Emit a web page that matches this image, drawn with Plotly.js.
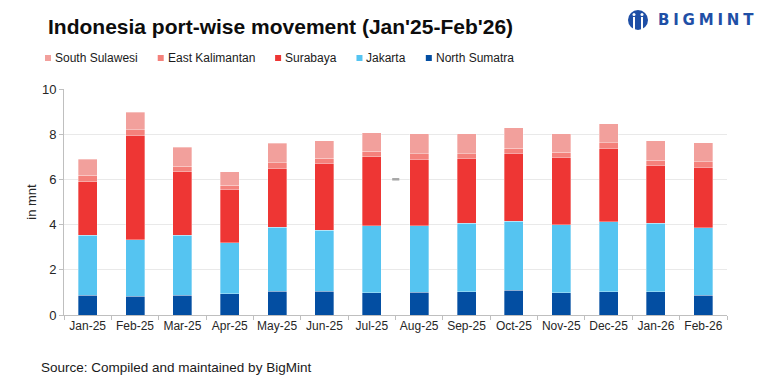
<!DOCTYPE html>
<html>
<head>
<meta charset="utf-8">
<script src="https://cdn.plot.ly/plotly-3.0.1.min.js"></script>
<style>html,body{margin:0;padding:0;background:#fff;}#chart{width:768px;height:385px;}</style>
</head>
<body>
<div id="chart"></div>
<script>
// ---- Data (million tonnes) ----
const months = ['Jan-25','Feb-25','Mar-25','Apr-25','May-25','Jun-25','Jul-25','Aug-25','Sep-25','Oct-25','Nov-25','Dec-25','Jan-26','Feb-26'];
const northSumatra   = [0.88, 0.84, 0.88, 0.93, 1.05, 1.05, 0.99, 1.01, 1.04, 1.10, 0.99, 1.04, 1.04, 0.87];
const jakarta        = [2.66, 2.48, 2.64, 2.27, 2.84, 2.69, 2.97, 2.95, 3.02, 3.05, 3.00, 3.09, 3.03, 2.98];
const surabaya       = [2.36, 4.64, 2.82, 2.36, 2.60, 2.97, 3.04, 2.94, 2.87, 3.00, 3.00, 3.25, 2.56, 2.69];
const eastKalimantan = [0.29, 0.23, 0.25, 0.19, 0.24, 0.23, 0.25, 0.23, 0.20, 0.22, 0.22, 0.25, 0.22, 0.24];
const southSulawesi  = [0.71, 0.78, 0.83, 0.59, 0.87, 0.78, 0.82, 0.88, 0.88, 0.92, 0.80, 0.83, 0.87, 0.84];
const yTicks = [0, 2, 4, 6, 8, 10];

const seriesNames  = ['North Sumatra', 'Jakarta', 'Surabaya', 'East Kalimantan', 'South Sulawesi'];
const seriesValues = [northSumatra, jakarta, surabaya, eastKalimantan, southSulawesi];
const seriesColors = ['#034EA2', '#55C4F1', '#EE3634', '#F4817B', '#F2A09C'];

// ---- Layout geometry ----
const W = 768, H = 385;
const M = {l: 64, r: 41, t: 89, b: 70};
const PW = W - M.l - M.r, PH = H - M.t - M.b;
const px = x => (x - M.l) / PW;          // pixel -> paper x
const py = y => (H - M.b - y) / PH;      // pixel -> paper y
const FONT = 'Liberation Sans, Arial, sans-serif';

const traces = seriesNames.map((name, i) => ({
  type: 'bar',
  name: name,
  x: months,
  y: seriesValues[i],
  marker: {color: seriesColors[i], line: {color: 'rgba(255,255,255,0.55)', width: 0.6}},
  hoverinfo: 'x+y+name'
}));

// Custom legend (legend order as in the reference)
const ctx = document.createElement('canvas').getContext('2d');
ctx.font = '12px "Liberation Sans"';
const shapes = [], annotations = [];
let lx = 45;
for (let k = seriesNames.length - 1; k >= 0; k--) {
  shapes.push({type: 'rect', xref: 'paper', yref: 'paper',
    x0: px(lx), x1: px(lx + 6), y0: py(61), y1: py(55),
    fillcolor: seriesColors[k], line: {width: 0}});
  annotations.push({xref: 'paper', yref: 'paper', x: px(lx + 8), y: py(58),
    xanchor: 'left', yanchor: 'middle', showarrow: false, text: seriesNames[k],
    font: {family: FONT, size: 12, color: '#1a1a1a'}});
  lx += 8 + ctx.measureText(seriesNames[k]).width + 22;
}

// stray grey dash seen in the reference
shapes.push({type: 'rect', xref: 'x', yref: 'y', x0: 6.43, x1: 6.58, y0: 5.95, y1: 6.06,
  fillcolor: '#a6a6a6', line: {width: 0}});

// Source note
annotations.push({xref: 'paper', yref: 'paper', x: px(39), y: py(367), xanchor: 'left', yanchor: 'middle',
  showarrow: false, text: 'Source: Compiled and maintained by BigMint',
  font: {family: FONT, size: 13.5, color: '#1a1a1a'}});

// Logo
const LOGO = '#1F4FA6';
annotations.push({xref: 'paper', yref: 'paper', x: px(656), y: py(20), xanchor: 'left', yanchor: 'middle',
  showarrow: false, text: '<span style="letter-spacing:3.8px">BIGMINT</span>',
  font: {family: 'DejaVu Sans, sans-serif', size: 15, color: LOGO, weight: 'bold'}});
shapes.push({type: 'circle', xref: 'paper', yref: 'paper', x0: px(628), x1: px(648), y0: py(30), y1: py(10),
  fillcolor: LOGO, line: {width: 0}});
shapes.push({type: 'rect', xref: 'paper', yref: 'paper', x0: px(633), x1: px(635), y0: py(31), y1: py(17),
  fillcolor: '#ffffff', line: {width: 0}});
shapes.push({type: 'rect', xref: 'paper', yref: 'paper', x0: px(641), x1: px(643), y0: py(31), y1: py(17),
  fillcolor: '#ffffff', line: {width: 0}});
shapes.push({type: 'circle', xref: 'paper', yref: 'paper', x0: px(632.5), x1: px(635.5), y0: py(16), y1: py(13),
  fillcolor: '#ffffff', line: {width: 0}});
shapes.push({type: 'circle', xref: 'paper', yref: 'paper', x0: px(640.5), x1: px(643.5), y0: py(16), y1: py(13),
  fillcolor: '#ffffff', line: {width: 0}});

const layout = {
  width: W, height: H,
  margin: M,
  paper_bgcolor: '#ffffff', plot_bgcolor: '#ffffff',
  barmode: 'stack', bargap: 0.6,
  showlegend: false,
  font: {family: FONT, size: 12, color: '#262626'},
  title: {text: "Indonesia port-wise movement (Jan'25-Feb'26)", xref: 'container', yref: 'container',
    x: 48 / W, xanchor: 'left', y: 1 - 27 / H, yanchor: 'middle',
    font: {family: FONT, size: 21, color: '#0d0d0d', weight: 'bold'}},
  xaxis: {type: 'category', tickson: 'boundaries', ticks: 'outside', ticklen: 4, tickcolor: '#bfbfbf',
    tickangle: 0, showline: true, linecolor: '#bfbfbf', linewidth: 1, showgrid: false,
    tickfont: {family: FONT, size: 12, color: '#262626'}, fixedrange: true},
  yaxis: {range: [0, 10], tickvals: yTicks, ticks: 'outside', ticklen: 4, tickcolor: '#bfbfbf',
    showline: true, linecolor: '#bfbfbf', linewidth: 1, showgrid: true, gridcolor: '#e9e9e9',
    zeroline: false, tickfont: {family: FONT, size: 13, color: '#262626'},
    title: {text: 'in mnt', standoff: 2, font: {family: FONT, size: 13, color: '#262626'}}, fixedrange: true},
  shapes: shapes,
  annotations: annotations
};

Plotly.newPlot('chart', traces, layout, {displayModeBar: false, staticPlot: true});
</script>
</body>
</html>
